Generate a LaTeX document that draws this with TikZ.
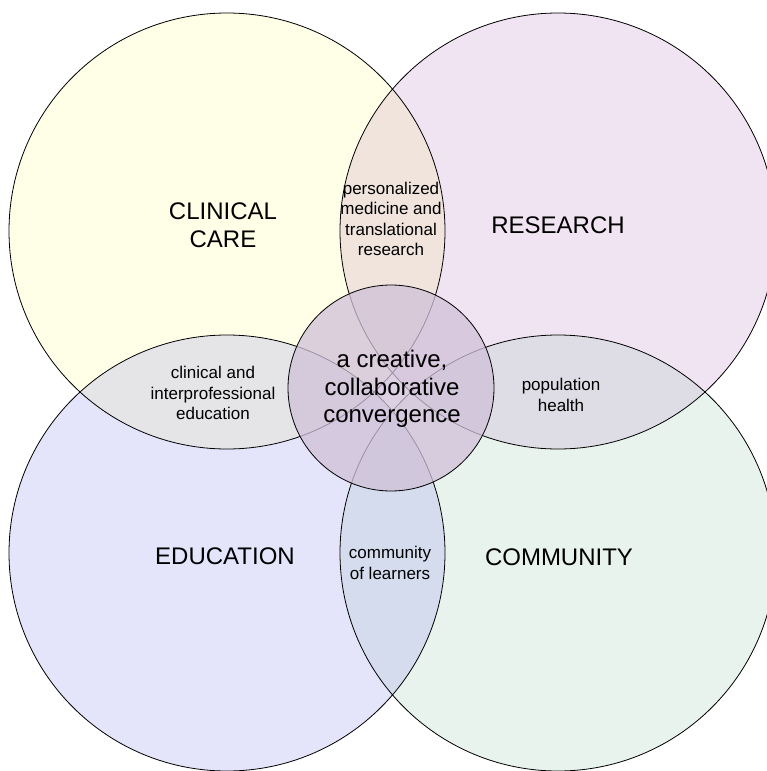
\documentclass[tikz,border=0pt]{standalone}
\usepackage{fontspec}
\setmainfont{Liberation Sans}
\definecolor{careyellow}{RGB}{255,255,231}
\definecolor{researchpink}{RGB}{241,228,242}
\definecolor{edublue}{RGB}{228,228,250}
\definecolor{commgreen}{RGB}{233,243,237}
\definecolor{lenstop}{RGB}{240,228,221}
\definecolor{lensleft}{RGB}{229,229,232}
\definecolor{lensright}{RGB}{222,220,228}
\definecolor{lensbottom}{RGB}{212,220,238}
\definecolor{convpurple}{RGB}{208,192,216}
\begin{document}
\begin{tikzpicture}[x=1pt, y=-1pt,
	big/.style={font=\fontsize{24}{27.5}\selectfont, align=center},
	small/.style={font=\fontsize{17}{20.5}\selectfont, align=center},
	ring/.style={line width=0.8pt}]
	\useasboundingbox (0,0) rectangle (767,771);
	\clip (0,0) rectangle (767,771);
	% circle centres
	\coordinate (care) at (227,231);
	\coordinate (research) at (558,231);
	\coordinate (education) at (227,553);
	\coordinate (community) at (558,553);
	\coordinate (convergence) at (391,388);
	% base fills
	\fill[careyellow] (care) circle (218pt);
	\fill[researchpink] (research) circle (218pt);
	\fill[edublue] (education) circle (218pt);
	\fill[commgreen] (community) circle (218pt);
	% overlaps
	\begin{scope}
		\clip (care) circle (218pt);
		\fill[lenstop] (research) circle (218pt);
		\fill[lensleft] (education) circle (218pt);
	\end{scope}
	\begin{scope}
		\clip (community) circle (218pt);
		\fill[lensright] (research) circle (218pt);
		\fill[lensbottom] (education) circle (218pt);
	\end{scope}
	% outlines
	\foreach \c in {care,research,education,community}
		\draw[ring] (\c) circle (218pt);
	\draw[ring, fill=convpurple, fill opacity=0.75] (convergence) circle (103pt);
	% labels
	\node[big] (carelbl) at (223,225) {CLINICAL\\CARE};
	\node[big] (researchlbl) at (558,225) {RESEARCH};
	\node[big] (edulbl) at (225,556) {EDUCATION};
	\node[big] (commlbl) at (559,557) {COMMUNITY};
	\node[big] (convlbl) at (392,389) {a creative,\\collaborative\\convergence};
	\node[small] (toplbl) at (391,219) {personalized\\medicine and\\translational\\research};
	\node[small] (leftlbl) at (213,393) {clinical and\\interprofessional\\education};
	\node[small] (rightlbl) at (561,395) {population\\health};
	\node[small] (bottomlbl) at (390,563) {community\\of learners};
\end{tikzpicture}
\end{document}
